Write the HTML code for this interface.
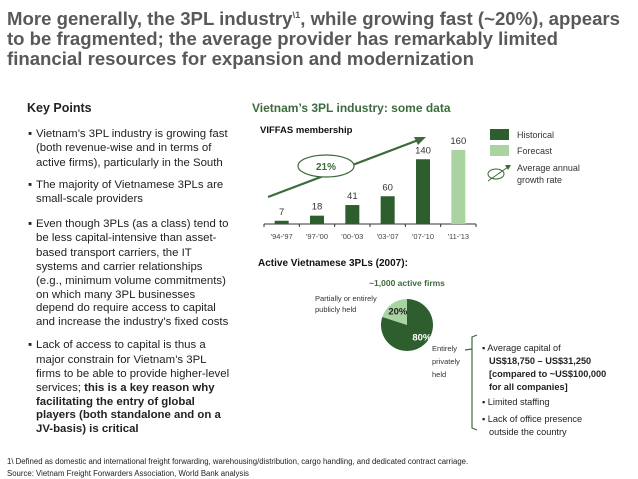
<!DOCTYPE html>
<html><head><meta charset="utf-8"><style>
html,body{margin:0;padding:0;background:#fff}
svg{display:block;font-family:"Liberation Sans",Arial,sans-serif}
</style></head><body>
<svg id="s" width="638" height="479" viewBox="0 0 638 479">
<g fill="#595959" font-weight="bold" font-size="18">
<text x="7" y="25" textLength="613" lengthAdjust="spacingAndGlyphs">More generally, the 3PL industry<tspan font-size="9" dy="-7">\1</tspan><tspan dy="7">, while growing fast (~20%), appears</tspan></text>
<text x="7" y="45" textLength="551" lengthAdjust="spacingAndGlyphs">to be fragmented; the average provider has remarkably limited</text>
<text x="7" y="65" textLength="467" lengthAdjust="spacingAndGlyphs">financial resources for expansion and modernization</text>
</g>
<text x="27" y="112" font-size="12.5" font-weight="bold" fill="#222">Key Points</text>
<g font-size="11.4" fill="#222">
<text x="28" y="137">▪</text>
<text x="36" y="137">Vietnam’s 3PL industry is growing fast</text>
<text x="36" y="151">(both revenue-wise and in terms of</text>
<text x="36" y="166">active firms), particularly in the South</text>
<text x="28" y="188">▪</text>
<text x="36" y="188">The majority of Vietnamese 3PLs are</text>
<text x="36" y="202">small-scale providers</text>
<text x="28" y="227">▪</text>
<text x="36" y="227">Even though 3PLs (as a class) tend to</text>
<text x="36" y="241">be less capital-intensive than asset-</text>
<text x="36" y="256">based transport carriers, the IT</text>
<text x="36" y="270">systems and carrier relationships</text>
<text x="36" y="284">(e.g., minimum volume commitments)</text>
<text x="36" y="298">on which many 3PL businesses</text>
<text x="36" y="311">depend do require access to capital</text>
<text x="36" y="325">and increase the industry’s fixed costs</text>
<text x="28" y="348">▪</text>
<text x="36" y="348">Lack of access to capital is thus a</text>
<text x="36" y="363">major constrain for Vietnam’s 3PL</text>
<text x="36" y="377">firms to be able to provide higher-level</text>
<text x="36" y="391">services; <tspan font-weight="bold">this is a key reason why</tspan></text>
<text x="36" y="405" font-weight="bold">facilitating the entry of global</text>
<text x="36" y="418" font-weight="bold">players (both standalone and on a</text>
<text x="36" y="432" font-weight="bold">JV-basis) is critical</text>
</g>
<text x="252" y="112" font-size="12" font-weight="bold" fill="#3d6b3d">Vietnam’s 3PL industry: some data</text>
<text x="260" y="133" font-size="9.5" font-weight="bold" fill="#111">VIFFAS membership</text>
<g id="bars"></g>
<line x1="268" y1="197" x2="421" y2="139" stroke="#3d6b3d" stroke-width="2.2"/>
<polygon points="426,137 414,137 418,145" fill="#3d6b3d"/>
<ellipse cx="326" cy="166" rx="28" ry="11" fill="#fff" stroke="#3d6b3d" stroke-width="1.2"/>
<text x="326" y="170" font-size="10" font-weight="bold" fill="#3d6b3d" text-anchor="middle">21%</text>
<g font-size="9" fill="#333">
<rect x="490" y="129" width="19" height="11" fill="#2e5e2e"/>
<text x="517" y="138">Historical</text>
<rect x="490" y="145" width="19" height="11" fill="#a9d3a1"/>
<text x="517" y="154">Forecast</text>
<ellipse cx="496" cy="174" rx="8" ry="5" fill="none" stroke="#3d6b3d"/>
<line x1="488" y1="181" x2="508" y2="167" stroke="#3d6b3d"/>
<polygon points="511,165 505,165 508,170" fill="#3d6b3d"/>
<text x="517" y="171">Average annual</text>
<text x="517" y="183">growth rate</text>
</g>
<text x="258" y="266" font-size="10" font-weight="bold" fill="#111">Active Vietnamese 3PLs (2007):</text>
<text x="407" y="286" font-size="8.5" font-weight="bold" fill="#3d6b3d" text-anchor="middle">~1,000 active firms</text>
<g id="pie"></g>
<g font-size="7.5" fill="#333">
<text x="315" y="301">Partially or entirely</text>
<text x="315" y="312">publicly held</text>
<text x="432" y="351">Entirely</text>
<text x="432" y="364">privately</text>
<text x="432" y="377">held</text>
</g>
<path d="M477,335 L472,337 L472,428 L477,430 M472,349 L465,350" fill="none" stroke="#3d6b3d" stroke-width="1.2"/>
<g font-size="9.2" fill="#222">
<text x="482" y="351">▪ Average capital of</text>
<text x="489" y="364" font-weight="bold">US$18,750 – US$31,250</text>
<text x="489" y="377" font-weight="bold">[compared to ~US$100,000</text>
<text x="489" y="390" font-weight="bold">for all companies]</text>
<text x="482" y="405">▪ Limited staffing</text>
<text x="482" y="422">▪ Lack of office presence</text>
<text x="489" y="435">outside the country</text>
</g>
<g font-size="7.8" fill="#222">
<text x="7" y="464">1\ Defined as domestic and international freight forwarding, warehousing/distribution, cargo handling, and dedicated contract carriage.</text>
<text x="7" y="476">Source: Vietnam Freight Forwarders Association, World Bank analysis</text>
</g>
</svg>
<script>
const categories = ["'94-'97","'97-'00","'00-'03","'03-'07","'07-'10","'11-'13"];
const members = [7,18,41,60,140,160];
const isForecast = [false,false,false,false,false,true];
const pieLabels = ["20%","80%"];
const pieValues = [20,80];
const NS="http://www.w3.org/2000/svg";
const bg=document.getElementById('bars');
const x0=264,x1=476,base=224,yScale=v=>base-v*74/160;
const step=(x1-x0)/categories.length,bw=14;
function mk(t,a,p){const e=document.createElementNS(NS,t);for(const k in a)e.setAttribute(k,a[k]);p.appendChild(e);return e;}
const ax=mk('line',{x1:x0,y1:base,x2:x1,y2:base,stroke:'#333','stroke-width':1},bg);


for(let i=0;i<=categories.length;i++){mk('line',{x1:x0+i*step,y1:base,x2:x0+i*step,y2:base+3,stroke:'#333'},bg);}
members.forEach((v,i)=>{
 const cx=x0+step*(i+0.5);
 const r=mk('rect',{x:cx-bw/2,y:yScale(v),width:bw,height:base-yScale(v),fill:isForecast[i]?'#a9d3a1':'#2e5e2e'},bg);
 
 
 const t=mk('text',{x:cx,y:yScale(v)-6,'font-size':9.5,fill:'#333','text-anchor':'middle'},bg);t.textContent=v;
 
 
 const l=mk('text',{x:cx,y:base+15,'font-size':7.5,fill:'#444','text-anchor':'middle'},bg);l.textContent=categories[i];
 
 
});
const pg=document.getElementById('pie');
const pcx=407,pcy=325,pr=26,tot=pieValues.reduce((a,b)=>a+b,0);
let a=-Math.PI/2;const cols=['#a9d3a1','#2e5e2e'];
pieValues.forEach((v,i)=>{
 const a2=a-v/tot*2*Math.PI;
 const large=v/tot>0.5?1:0;
 const p=mk('path',{d:`M${pcx},${pcy} L${pcx+pr*Math.cos(a)},${pcy+pr*Math.sin(a)} A${pr},${pr} 0 ${large} 0 ${pcx+pr*Math.cos(a2)},${pcy+pr*Math.sin(a2)} Z`,fill:cols[i]},pg);
 
 
 const mid=(a+a2)/2;
 const rr=i?0.45:0.6;
 const t=mk('text',{x:pcx+pr*rr*Math.cos(mid)+(i?8:0),y:pcy+pr*rr*Math.sin(mid)+(i?6:2),'font-size':9.5,'font-weight':'bold',fill:i?'#fff':'#222','text-anchor':'middle'},pg);
 t.textContent=pieLabels[i];
 
 
 a=a2;
});
</script>
</body></html>
